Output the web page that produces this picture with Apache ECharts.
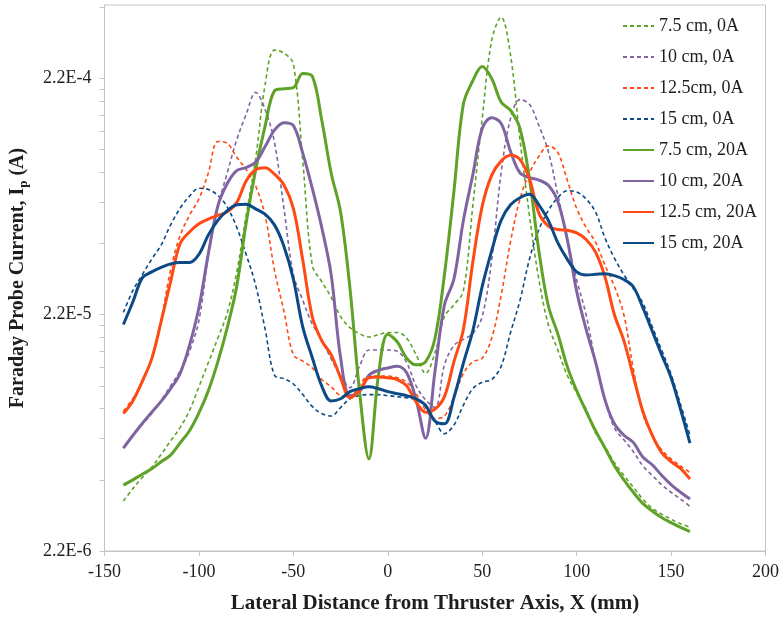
<!DOCTYPE html>
<html>
<head>
<meta charset="utf-8">
<script src="https://cdn.jsdelivr.net/npm/echarts@6/dist/echarts.min.js"></script>
<style>
  html, body { margin: 0; padding: 0; background: #ffffff; }
  #chart { width: 782px; height: 619px; }
</style>
</head>
<body>
<div id="chart"></div>
<script>
// Lateral probe positions (mm)
const positionsMm = [-140, -135, -130, -125, -120, -115, -110, -105, -100, -95, -90, -85, -80, -75, -70, -65, -60, -55, -50, -45, -40, -35, -30, -25, -20, -15, -10, -5, 0, 5, 10, 15, 20, 25, 30, 35, 40, 45, 50, 55, 60, 65, 70, 75, 80, 85, 90, 95, 100, 105, 110, 115, 120, 125, 130, 135, 140, 145, 150, 155, 160];

// Faraday probe current in microamps, one array per distance / magnet current
const cm75_0A = [3.58, 4.04, 4.5, 4.98, 5.64, 6.43, 7.32, 8.64, 10.9, 13.8, 17.5, 22.4, 33.2, 57.8, 100, 206, 290, 282, 253, 98, 35.7, 30.4, 26.1, 21.6, 19.4, 18.3, 17.7, 18.1, 18.5, 18.5, 17.5, 14.9, 12.4, 15.2, 21.6, 24.2, 27.7, 63.5, 149, 318, 400, 276, 121, 58, 31, 20, 15.6, 12.2, 10.3, 8.76, 6.96, 6.08, 5.2, 4.6, 4.1, 3.65, 3.34, 3.15, 3.0, 2.87, 2.77];
const cm10_0A = [6.0, 6.78, 7.55, 8.4, 9.56, 11.0, 12.7, 15.4, 20.8, 39, 63, 87.6, 121, 155, 192, 163, 118, 62, 32.6, 25.3, 20.1, 17.3, 14.3, 12.2, 10.8, 13.3, 15.6, 15.6, 15.6, 15.4, 13.8, 11.0, 9.6, 8.9, 13.5, 16.3, 17.3, 18.3, 21.6, 37.4, 87.6, 149, 179, 171, 139, 108, 71, 46, 31, 22, 13.9, 9.6, 7.3, 6.5, 5.8, 5.05, 4.6, 4.2, 3.9, 3.65, 3.4];
const cm125_0A = [8.6, 9.7, 11.3, 14.5, 20.9, 34.1, 47.5, 57.9, 68, 87.6, 119, 117, 102, 90.7, 77.2, 57.9, 34, 22.8, 14.9, 14.0, 13.1, 11.7, 10.9, 10.0, 9.9, 11.1, 12.1, 12.1, 12.1, 11.9, 11.4, 10.2, 8.7, 8.0, 8.2, 9.8, 12.4, 13.9, 14.4, 17.5, 26.5, 44.9, 68, 87.6, 103, 114, 107, 81.8, 62, 51.5, 44.6, 35.7, 29, 22, 13, 8.4, 6.8, 5.9, 5.4, 5.04, 4.73];
const cm15_0A = [22.5, 27.8, 32.5, 37.8, 43.4, 52.8, 62, 69.9, 75.4, 74.5, 70.4, 62.8, 51.6, 39.6, 29.4, 19.2, 12.2, 11.8, 11.2, 10.1, 9.0, 8.4, 8.2, 8.9, 9.7, 10.0, 10.1, 10.1, 10.0, 9.9, 9.8, 9.6, 9.0, 7.8, 6.9, 7.5, 9.1, 10.7, 11.4, 11.7, 13.3, 18.5, 25.3, 37.8, 50.4, 60.7, 68.8, 73.6, 72.8, 68, 59.9, 46.5, 38.2, 32.5, 28.4, 24.7, 19.6, 15.6, 12.3, 9.2, 6.8];
const cm75_20A = [4.18, 4.4, 4.65, 4.9, 5.25, 5.6, 6.3, 7.1, 8.45, 10.5, 13.9, 19.4, 29, 53.8, 90, 138, 195, 199, 201, 231, 225, 147, 87.6, 59.8, 28.3, 10.5, 5.4, 12.1, 18.2, 16.9, 14.4, 13.5, 13.9, 17.5, 32.5, 72.9, 171, 215, 247, 220, 175, 161, 135, 83, 41, 24, 18.3, 13.3, 10.5, 8.6, 7.1, 6.0, 5.05, 4.4, 3.9, 3.5, 3.25, 3.05, 2.9, 2.77, 2.66];
const cm10_20A = [6.0, 6.78, 7.62, 8.5, 9.45, 10.7, 12.4, 16.3, 23.6, 40, 63.4, 79, 89.6, 92.3, 97.2, 113, 133, 143, 139, 106, 75.5, 51.6, 32.6, 14.5, 10.0, 10.4, 12.2, 12.8, 13.1, 13.3, 12.5, 9.6, 6.6, 12.7, 24.2, 31.1, 55, 85.9, 135, 150, 142, 108, 87.6, 83.7, 81.7, 77.7, 66.4, 46.0, 27.7, 19.1, 13.9, 9.6, 7.6, 6.8, 6.34, 5.5, 5.1, 4.6, 4.2, 3.9, 3.65];
const cm125_20A = [8.4, 9.5, 11.5, 14.3, 20.6, 30.4, 43.9, 49.3, 53.4, 55.9, 57.9, 60, 65.6, 80.9, 90.3, 92.1, 86.6, 78, 62, 37.4, 21.6, 17.1, 14.9, 11.9, 9.8, 10.5, 11.9, 12.0, 11.9, 11.7, 11.0, 9.4, 8.5, 8.76, 9.9, 13.9, 19, 36.6, 63.4, 85.6, 98.3, 104, 99.7, 82.7, 59.2, 52.2, 50.5, 50.1, 48.8, 45.8, 40.5, 31.8, 22, 17.1, 12.1, 8.6, 6.8, 5.74, 5.26, 4.92, 4.43];
const cm15_20A = [20, 24.9, 31.5, 33.4, 34.9, 36.1, 36.6, 36.6, 39.6, 47.9, 55.2, 60.7, 64.2, 64.6, 61.7, 58.6, 52.8, 42.9, 31.1, 19.5, 14.5, 11.0, 9.5, 9.7, 10.4, 10.7, 10.9, 10.7, 10.4, 10.2, 10.0, 9.7, 9.1, 7.8, 7.6, 9.8, 13.7, 18.8, 29, 41, 55.2, 64.2, 68.8, 71.2, 64.2, 55.2, 44.4, 37.8, 33.4, 32.4, 32.6, 32.8, 32.2, 31, 28.9, 23.6, 18.8, 14.9, 11.9, 8.76, 6.3];

// Axis ticks
const xTicks = { min: -150, max: 200, step: 50 };
const yLabelValues = [2.2e-6, 2.2e-5, 2.2e-4];
const yAxisMin = 2.2e-6;
const yAxisMax = 4.5e-4;

// minor log ticks: 1..9 times each labelled decade
const yTickValues = [];
yLabelValues.forEach(function (base) {
  for (let k = 1; k <= 9; k++) {
    const v = base * k;
    if (v <= yAxisMax) yTickValues.push(k === 1 ? base : v);
  }
});

const GREEN = '#5ea228';
const PURPLE = '#8064a2';
const ORANGE = '#ff4a14';
const NAVY = '#0b4a86';
const FONT = 'Liberation Serif';
const TEXT = '#1e1e1e';
const AXIS_GREY = '#c4c4c4';

const seriesDefs = [
  { name: '7.5 cm, 0A', values: cm75_0A, color: GREEN, dashed: true },
  { name: '10 cm, 0A', values: cm10_0A, color: PURPLE, dashed: true },
  { name: '12.5cm, 0A', values: cm125_0A, color: ORANGE, dashed: true },
  { name: '15 cm, 0A', values: cm15_0A, color: NAVY, dashed: true },
  { name: '7.5 cm, 20A', values: cm75_20A, color: GREEN, dashed: false },
  { name: '10 cm, 20A', values: cm10_20A, color: PURPLE, dashed: false },
  { name: '12.5 cm, 20A', values: cm125_20A, color: ORANGE, dashed: false },
  { name: '15 cm, 20A', values: cm15_20A, color: NAVY, dashed: false }
];

const chart = echarts.init(document.getElementById('chart'), null, { renderer: 'canvas' });

chart.setOption({
  animation: false,
  backgroundColor: '#ffffff',
  grid: {
    left: 101, right: 14, top: 5, bottom: 66,
    show: true, borderColor: AXIS_GREY, borderWidth: 1, backgroundColor: 'transparent'
  },
  legend: {
    orient: 'vertical',
    left: 617, top: 12,
    itemWidth: 31, itemHeight: 12, itemGap: 13,
    itemStyle: { opacity: 0 },
    textStyle: { fontFamily: FONT, fontSize: 18, color: TEXT },
    data: seriesDefs.map(function (d) { return d.name; })
  },
  xAxis: {
    type: 'value',
    min: xTicks.min, max: xTicks.max, interval: xTicks.step,
    axisLine: { show: true, onZero: false, lineStyle: { color: AXIS_GREY, width: 1 } },
    axisTick: { show: true, inside: false, length: 5, lineStyle: { color: AXIS_GREY } },
    axisLabel: { fontFamily: FONT, fontSize: 18, color: TEXT, margin: 12 },
    splitLine: { show: false },
    name: 'Lateral Distance from Thruster Axis, X (mm)',
    nameLocation: 'middle', nameGap: 42,
    nameTextStyle: { fontFamily: FONT, fontSize: 21, fontWeight: 'bold', color: TEXT }
  },
  yAxis: {
    type: 'log', logBase: 10,
    min: yAxisMin, max: yAxisMax,
    axisLine: { show: true, onZero: false, lineStyle: { color: AXIS_GREY, width: 1 } },
    axisTick: { show: true, inside: false, length: 5, customValues: yTickValues, lineStyle: { color: AXIS_GREY } },
    axisLabel: {
      customValues: yLabelValues,
      fontFamily: FONT, fontSize: 18, color: TEXT, margin: 13,
      formatter: function (v) { return Number(v).toExponential(1).toUpperCase(); }
    },
    splitLine: { show: false },
    minorTick: { show: false },
    name: '{t|Faraday Probe Current, I}{s|p}{t| (A)}',
    nameLocation: 'middle', nameGap: 74, nameRotate: 90,
    nameTextStyle: {
      rich: {
        t: { fontFamily: FONT, fontSize: 20, fontWeight: 'bold', color: TEXT, lineHeight: 25 },
        s: { fontFamily: FONT, fontSize: 13, fontWeight: 'bold', color: TEXT, lineHeight: 13, verticalAlign: 'bottom' }
      }
    }
  },
  series: seriesDefs.map(function (d) {
    return {
      name: d.name,
      type: 'line',
      data: positionsMm.map(function (x, i) { return [x, d.values[i] * 1e-6]; }),
      symbol: 'none',
      showSymbol: false,
      smooth: 0.35,
      clip: true,
      itemStyle: { color: d.color },
      lineStyle: d.dashed
        ? { color: d.color, width: 1.6, type: [4, 3] }
        : { color: d.color, width: 3, type: 'solid' },
      z: d.dashed ? 2 : 3
    };
  })
});
</script>
</body>
</html>
